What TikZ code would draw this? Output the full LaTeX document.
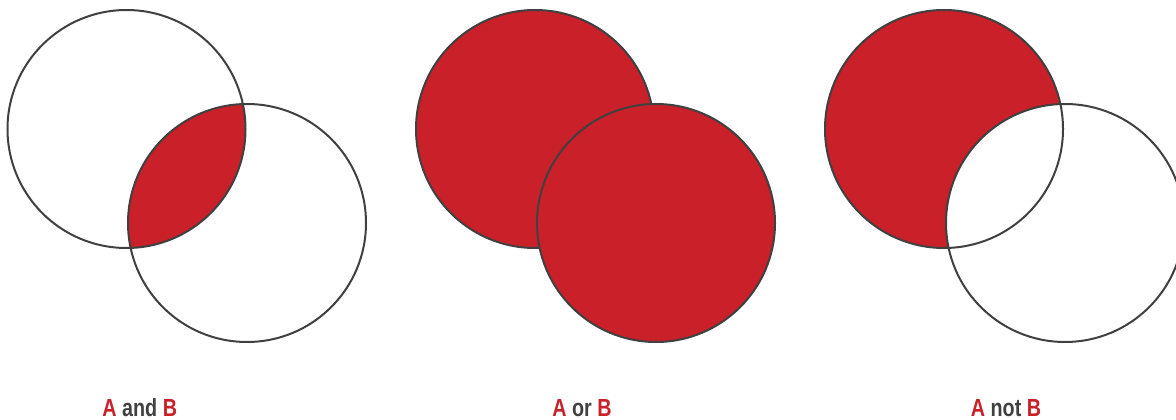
\documentclass[tikz,border=0pt]{standalone}
\usepackage{fontspec}
\setmainfont{Liberation Sans}[FakeStretch=0.8]
\definecolor{vred}{HTML}{C9202A}
\definecolor{vgray}{HTML}{404040}
\begin{document}
\begin{tikzpicture}[x=1pt,y=-1pt,
  ring/.style={draw=vgray,line width=2pt},
  lab/.style={font=\fontsize{24.7}{26}\selectfont\bfseries,text=vgray,anchor=base,inner sep=0pt}]
\useasboundingbox (0,0) rectangle (1176,420);
\def\R{119}
% pair 1: A and B
\coordinate (a1) at (126.5,129);
\coordinate (b1) at (247,223);
\begin{scope}
  \clip (a1) circle (\R);
  \fill[vred] (b1) circle (\R);
\end{scope}
\draw[ring] (a1) circle (\R);
\draw[ring] (b1) circle (\R);
% pair 2: A or B
\coordinate (a2) at (535,129);
\coordinate (b2) at (656,223);
\draw[ring,fill=vred] (a2) circle (\R);
\draw[ring,fill=vred] (b2) circle (\R);
% pair 3: A not B
\coordinate (a3) at (944,129);
\coordinate (b3) at (1065,223);
\fill[vred] (a3) circle (\R);
\begin{scope}
  \clip (a3) circle (\R);
  \fill[white] (b3) circle (\R);
\end{scope}
\draw[ring] (a3) circle (\R);
\draw[ring] (b3) circle (\R);
% labels
\node[lab] (t1) at (139.7,416.7) {\textcolor{vred}{A} and \textcolor{vred}{B}};
\node[lab] (t2) at (582,416.7) {\textcolor{vred}{A} or \textcolor{vred}{B}};
\node[lab] (t3) at (1006,416.7) {\textcolor{vred}{A} not \textcolor{vred}{B}};
\end{tikzpicture}
\end{document}
